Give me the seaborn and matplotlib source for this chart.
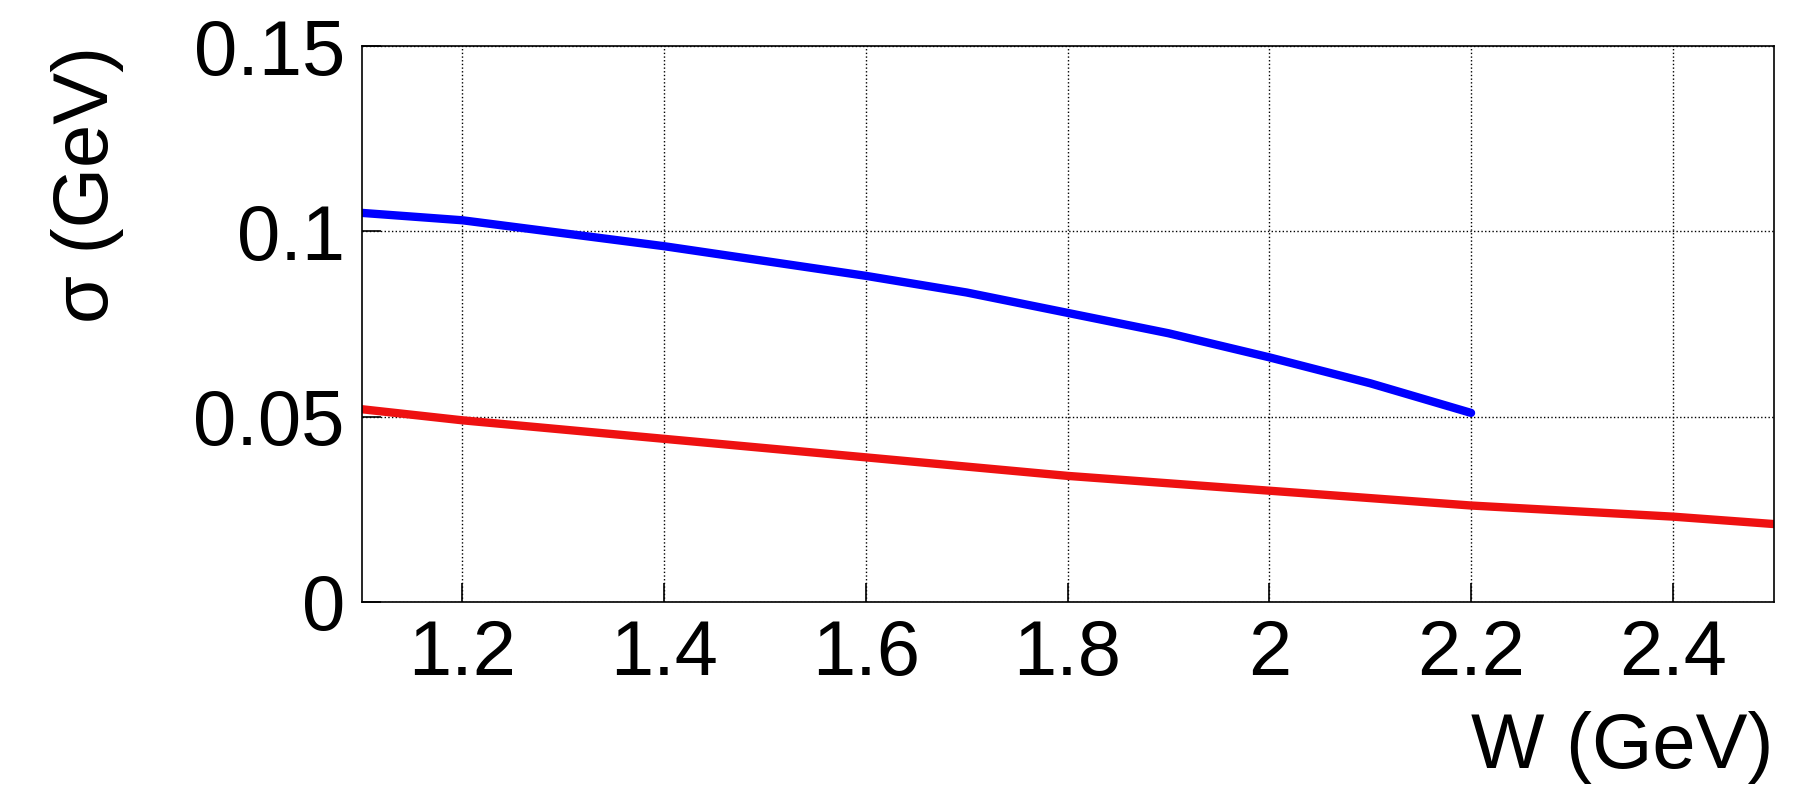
import matplotlib
matplotlib.use("Agg")
import matplotlib.pyplot as plt
import seaborn as sns

# W (GeV) and sigma (GeV)
w_blue = [1.1, 1.2, 1.3, 1.4, 1.5, 1.6, 1.7, 1.8, 1.9, 2.0, 2.1, 2.2]
sig_blue = [0.105, 0.103, 0.0995, 0.096, 0.092, 0.088, 0.0835, 0.078, 0.0725, 0.066, 0.059, 0.051]
w_red = [1.1, 1.2, 1.3, 1.4, 1.5, 1.6, 1.7, 1.8, 1.9, 2.0, 2.1, 2.2, 2.3, 2.4, 2.5]
sig_red = [0.052, 0.049, 0.0465, 0.044, 0.0415, 0.039, 0.0365, 0.034, 0.032, 0.030, 0.028, 0.026, 0.0245, 0.023, 0.021]

sns.set_style("ticks")
plt.rcParams["font.family"] = ["Liberation Sans", "DejaVu Sans"]
plt.rcParams["text.color"] = "black"
plt.rcParams["axes.labelcolor"] = "black"
plt.rcParams["xtick.color"] = "black"
plt.rcParams["ytick.color"] = "black"

fig = plt.figure(figsize=(18.08, 8.10), dpi=100)
ax = fig.add_axes([0.20, 0.257, 0.781, 0.686])

sns.lineplot(x=w_blue, y=sig_blue, ax=ax, color="#0000ff", linewidth=6)
sns.lineplot(x=w_red, y=sig_red, ax=ax, color="#ee1111", linewidth=6)

ax.set_xlim(1.1, 2.5)
ax.set_ylim(0, 0.15)
ax.set_xticks([1.2, 1.4, 1.6, 1.8, 2.0, 2.2, 2.4])
ax.set_xticklabels(["1.2", "1.4", "1.6", "1.8", "2", "2.2", "2.4"])
ax.set_yticks([0, 0.05, 0.1, 0.15])
ax.set_yticklabels(["0", "0.05", "0.1", "0.15"])
ax.grid(True, color="black", linestyle=":", linewidth=1)
ax.tick_params(direction="in", labelsize=56, length=14, width=1.2, pad=12)
for s in ax.spines.values():
    s.set_linewidth(1.2)
    s.set_color("black")

ax.set_xlabel("W (GeV)", fontsize=56, loc="right", labelpad=14)
ax.set_ylabel("σ (GeV)", fontsize=56, loc="top", labelpad=50)

fig.savefig("out.png", dpi=100)
